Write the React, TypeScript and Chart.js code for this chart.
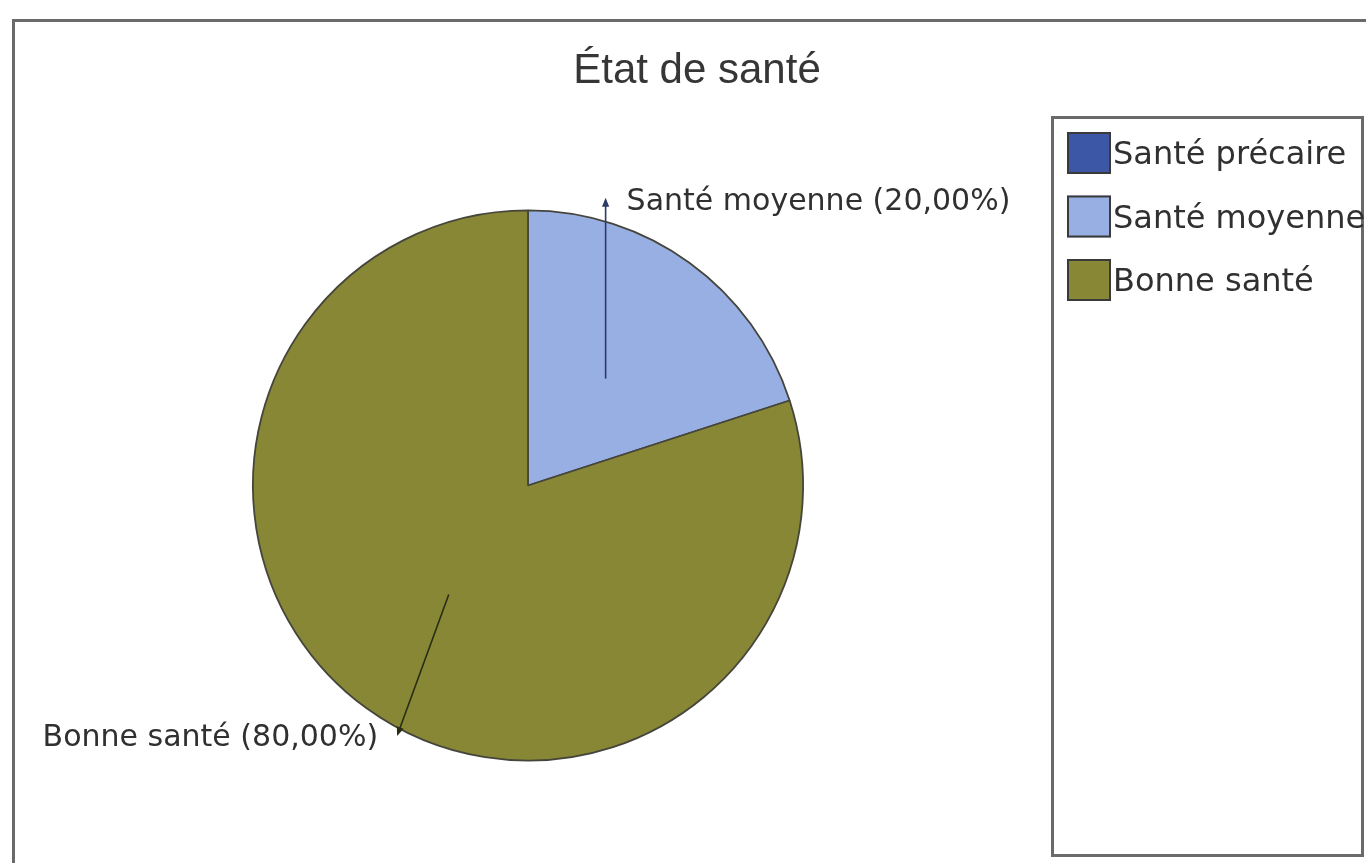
import React, { useEffect, useRef } from "react";
import { Chart, registerables } from "chart.js";

Chart.register(...registerables);

const chartTitle = "État de santé";
const categories = ["Santé précaire", "Santé moyenne", "Bonne santé"];
const values = [0, 20, 80];
const sliceColors = ["#3b57a6", "#98afe4", "#878736"];

// Leader-line geometry (layout only), relative to the pie centre in units of radius
const leaderLayout: Record<number, { startR: number; endDX: number | null; endDY: number; side: "left" | "right" }> = {
  1: { startR: 0.48, endDX: null, endDY: -1.035, side: "right" },
  2: { startR: 0.49, endDX: -0.472, endDY: 0.9, side: "left" },
};

const decorPlugin = {
  id: "decor",
  beforeDraw(chart: any) {
    const ctx = chart.ctx as CanvasRenderingContext2D;
    ctx.save();
    ctx.fillStyle = "#ffffff";
    ctx.fillRect(0, 0, chart.width, chart.height);
    // outer frame
    ctx.strokeStyle = "#6a6a6a";
    ctx.lineWidth = 3;
    ctx.strokeRect(13.5, 20.5, 1400, 900);
    // title
    ctx.fillStyle = "#363636";
    ctx.font = "42px 'Liberation Sans', Arial, sans-serif";
    ctx.textAlign = "center";
    ctx.textBaseline = "alphabetic";
    ctx.fillText(chartTitle, 697, 83);
    // legend box
    ctx.strokeStyle = "#6a6a6a";
    ctx.lineWidth = 3;
    ctx.strokeRect(1052.5, 117.5, 310, 738);
    const labels: string[] = chart.data.labels;
    const colors: string[] = chart.data.datasets[0].backgroundColor;
    ctx.font = "32px 'DejaVu Sans', sans-serif";
    ctx.textAlign = "left";
    ctx.textBaseline = "middle";
    labels.forEach((lab, i) => {
      const top = 132 + i * 63.5;
      ctx.fillStyle = colors[i];
      ctx.fillRect(1067, top, 44, 42);
      ctx.strokeStyle = "#3a3a3a";
      ctx.lineWidth = 2;
      ctx.strokeRect(1068, top + 1, 42, 40);
      ctx.fillStyle = "#303030";
      ctx.fillText(lab, 1113, top + 24);
    });
    ctx.restore();
  },
  afterDatasetsDraw(chart: any) {
    const ctx = chart.ctx as CanvasRenderingContext2D;
    const meta = chart.getDatasetMeta(0);
    const data: number[] = chart.data.datasets[0].data;
    const total = data.reduce((a, b) => a + b, 0);
    const labels: string[] = chart.data.labels;
    ctx.save();
    meta.data.forEach((arc: any, i: number) => {
      const v = data[i];
      const lay = leaderLayout[i];
      if (!v || !lay) return;
      const { x, y, startAngle, endAngle, outerRadius } = arc.getProps(
        ["x", "y", "startAngle", "endAngle", "outerRadius"],
        true
      );
      const mid = (startAngle + endAngle) / 2;
      const sx = x + Math.cos(mid) * outerRadius * lay.startR;
      const sy = y + Math.sin(mid) * outerRadius * lay.startR;
      const ex = lay.endDX === null ? sx : x + lay.endDX * outerRadius;
      const ey = y + lay.endDY * outerRadius;
      ctx.strokeStyle = i === 1 ? "#2c3a66" : "#2a2d12";
      ctx.lineWidth = 1.6;
      ctx.beginPath();
      ctx.moveTo(sx, sy);
      ctx.lineTo(ex, ey);
      ctx.stroke();
      // arrow head
      const ang = Math.atan2(ey - sy, ex - sx);
      ctx.fillStyle = ctx.strokeStyle;
      ctx.beginPath();
      ctx.moveTo(ex + Math.cos(ang) * 3, ey + Math.sin(ang) * 3);
      ctx.lineTo(ex + Math.cos(ang + 2.6) * 7, ey + Math.sin(ang + 2.6) * 7);
      ctx.lineTo(ex + Math.cos(ang - 2.6) * 7, ey + Math.sin(ang - 2.6) * 7);
      ctx.closePath();
      ctx.fill();
      const pct = ((v / total) * 100).toFixed(2).replace(".", ",");
      const text = `${labels[i]} (${pct}%)`;
      ctx.font = "30px 'DejaVu Sans', sans-serif";
      ctx.fillStyle = "#303030";
      ctx.textBaseline = "alphabetic";
      if (lay.side === "right") {
        ctx.textAlign = "left";
        ctx.fillText(text, ex + 21, ey + 9);
      } else {
        ctx.textAlign = "right";
        ctx.fillText(text, ex - 20, ey + 13);
      }
    });
    ctx.restore();
  },
};

export default function App() {
  const ref = useRef<HTMLCanvasElement | null>(null);
  useEffect(() => {
    document.body.style.margin = "0";
    const canvas = ref.current;
    if (!canvas) return;
    const chart = new Chart(canvas, {
      type: "pie",
      data: {
        labels: categories,
        datasets: [
          {
            data: values,
            backgroundColor: sliceColors,
            borderColor: "#45453c",
            borderWidth: 1.8,
          },
        ],
      },
      options: {
        responsive: false,
        animation: false,
        layout: { padding: { left: 252, right: 562, top: 209, bottom: 101 } },
        plugins: {
          legend: { display: false },
          title: { display: false },
          tooltip: { enabled: false },
        },
      },
      plugins: [decorPlugin],
    });
    return () => chart.destroy();
  }, []);
  return (
    <div style={{ position: "absolute", left: 0, top: 0, width: 1366, height: 863 }}>
      <canvas ref={ref} width={1366} height={863} style={{ display: "block" }} />
    </div>
  );
}
